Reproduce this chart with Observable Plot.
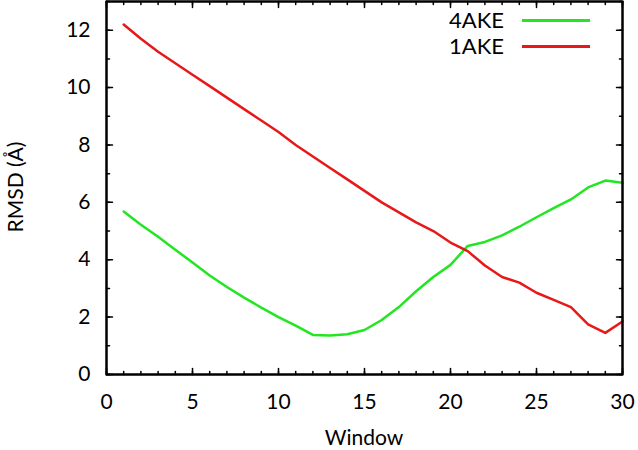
<!DOCTYPE html>
<html><head><meta charset="utf-8">
<script src="https://cdn.jsdelivr.net/npm/d3@7"></script>
<script src="https://cdn.jsdelivr.net/npm/@observablehq/plot@0.6"></script>
<style>
body{margin:0;background:#fff}
#wrap{position:relative;width:638px;height:450px;font-family:Lato,sans-serif;font-size:21px;color:#000}
.lab{position:absolute;line-height:24px;white-space:nowrap}
.sw{position:absolute;height:2.5px}
</style>
</head><body><div id="wrap"><div id="chart"></div></div>
<script>
const windows = [1,2,3,4,5,6,7,8,9,10,11,12,13,14,15,16,17,18,19,20,21,22,23,24,25,26,27,28,29,30];
const rmsd4AKE = [5.68,5.22,4.8,4.35,3.9,3.45,3.05,2.68,2.33,2.0,1.7,1.38,1.36,1.4,1.55,1.9,2.35,2.9,3.4,3.82,4.48,4.62,4.85,5.15,5.48,5.8,6.1,6.52,6.76,6.68];
const rmsd1AKE = [12.2,11.7,11.25,10.85,10.45,10.05,9.65,9.25,8.85,8.45,8.0,7.6,7.2,6.8,6.4,6.0,5.65,5.3,5.0,4.6,4.3,3.8,3.4,3.2,2.85,2.6,2.35,1.75,1.45,1.85];
const seriesNames = ["4AKE", "1AKE"];
const seriesColors = ["#22e622", "#e81818"];
const xMajorTicks = [0,5,10,15,20,25,30];
const xMinorTicks = [0,1,2,3,4,5,6,7,8,9,10,11,12,13,14,15,16,17,18,19,20,21,22,23,24,25,26,27,28,29,30];
const yMajorTicks = [0,2,4,6,8,10,12];
const yMinorTicks = [0,1,2,3,4,5,6,7,8,9,10,11,12,13];
const xDomain = [0, 30];
const yDomain = [0, 13];
const xLabel = "Window";
const yLabel = "RMSD (Å)";

const rows = windows.flatMap((w, i) => [
  {w, v: rmsd4AKE[i], s: seriesNames[0]},
  {w, v: rmsd1AKE[i], s: seriesNames[1]}
]);
const tickShape = {draw(ctx, l) { ctx.moveTo(0, 0); ctx.lineTo(0, -l); }};
const tickStyle = {shape: tickShape, anchor: "start", stroke: "#000", strokeWidth: 1.5};
const xTicks = (data, len, side) => Plot.vector(data, {x: d => d, frameAnchor: side, rotate: side === "bottom" ? 0 : 180, length: len, ...tickStyle});
const yTicks = (data, len, side) => Plot.vector(data, {y: d => d, frameAnchor: side, rotate: side === "left" ? 90 : -90, length: len, ...tickStyle});

const chart = Plot.plot({
  width: 638, height: 450,
  marginLeft: 106, marginRight: 16, marginTop: 1, marginBottom: 76,
  style: {fontFamily: "Lato, sans-serif", fontSize: "21px", color: "#000", background: "#fff"},
  x: {domain: xDomain},
  y: {domain: yDomain},
  color: {domain: seriesNames, range: seriesColors},
  marks: [
    Plot.line(rows, {x: "w", y: "v", z: "s", stroke: "s", strokeWidth: 2.5}),
    xTicks(xMinorTicks, 3, "bottom"),
    xTicks(xMajorTicks, 6, "bottom"),
    xTicks(xMinorTicks, 3, "top"),
    xTicks(xMajorTicks, 6, "top"),
    yTicks(yMinorTicks, 3, "left"),
    yTicks(yMajorTicks, 6, "left"),
    yTicks(yMinorTicks, 3, "right"),
    yTicks(yMajorTicks, 6, "right"),
    Plot.axisX({ticks: xMajorTicks, tickSize: 0, tickPadding: 20, label: null}),
    Plot.axisY({ticks: yMajorTicks, tickSize: 0, tickPadding: 16, label: null}),
    Plot.ruleX(xDomain, {stroke: "#000", strokeWidth: 2}),
    Plot.ruleY(yDomain, {stroke: "#000", strokeWidth: 2}),
    Plot.frame({stroke: "#000", strokeWidth: 2})
  ]
});
document.getElementById("chart").appendChild(chart);

const wrap = document.getElementById("wrap");
function addLabel(text, css) {
  const d = document.createElement("div");
  d.className = "lab";
  d.textContent = text;
  Object.assign(d.style, css);
  wrap.appendChild(d);
}
addLabel(xLabel, {left: "264px", width: "200px", top: "425px", textAlign: "center"});
addLabel(yLabel, {left: "-85px", width: "200px", top: "175px", textAlign: "center", transform: "rotate(-90deg)"});
seriesNames.forEach((s, i) => {
  addLabel(s, {left: "404px", width: "100px", top: (8 + 26 * i) + "px", textAlign: "right", fontSize: "22px"});
  const sw = document.createElement("div");
  sw.className = "sw";
  Object.assign(sw.style, {left: "522px", width: "68px", top: (19 + 26 * i) + "px", background: seriesColors[i]});
  wrap.appendChild(sw);
});
</script>
</body></html>
